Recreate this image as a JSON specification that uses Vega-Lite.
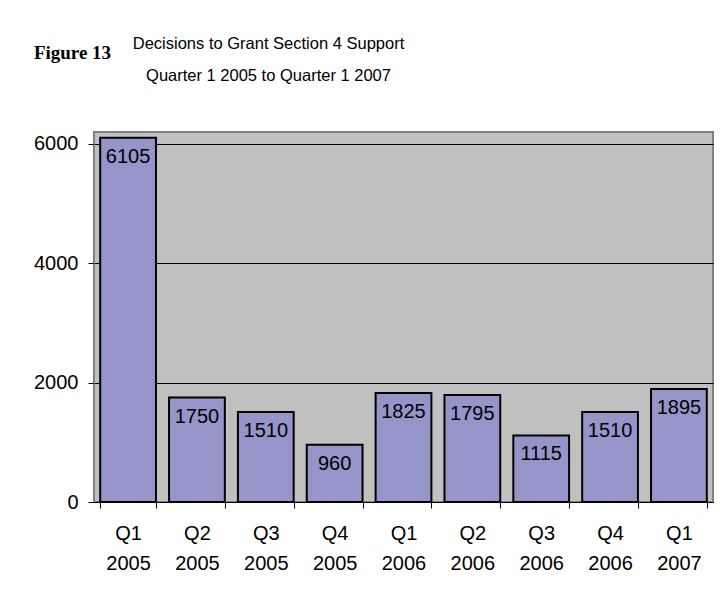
{
  "$schema": "https://vega.github.io/schema/vega-lite/v6.json",
  "width": 619,
  "height": 370,
  "autosize": {"type": "none"},
  "padding": {"left": 94, "top": 132, "right": 15, "bottom": 89},
  "background": "white",
  "title": {
    "text": ["Decisions to Grant Section 4 Support", "Quarter 1 2005 to Quarter 1 2007"],
    "anchor": "middle",
    "dx": -135,
    "offset": 0,
    "dy": 54,
    "baseline": "alphabetic",
    "font": "Liberation Sans",
    "fontSize": 16.5,
    "fontWeight": "normal",
    "lineHeight": 32,
    "color": "black"
  },
  "data": {
    "values": [
      {"quarter": "Q1 2005", "decisions": 6105},
      {"quarter": "Q2 2005", "decisions": 1750},
      {"quarter": "Q3 2005", "decisions": 1510},
      {"quarter": "Q4 2005", "decisions": 960},
      {"quarter": "Q1 2006", "decisions": 1825},
      {"quarter": "Q2 2006", "decisions": 1795},
      {"quarter": "Q3 2006", "decisions": 1115},
      {"quarter": "Q4 2006", "decisions": 1510},
      {"quarter": "Q1 2007", "decisions": 1895}
    ]
  },
  "encoding": {
    "x": {
      "field": "quarter",
      "type": "nominal",
      "sort": null,
      "scale": {"paddingInner": 0.19, "paddingOuter": 0.09},
      "axis": {
        "title": null,
        "labelAngle": 0,
        "labelExpr": "split(datum.label, ' ')",
        "labelLineHeight": 30,
        "labelFont": "Liberation Sans",
        "labelFontSize": 20,
        "labelColor": "black",
        "labelPadding": 15,
        "tickBand": "extent",
        "tickSize": 6,
        "tickColor": "black",
        "domainColor": "black",
        "domainWidth": 1
      }
    },
    "y": {
      "field": "decisions",
      "type": "quantitative",
      "scale": {"domain": [0, 6200], "nice": false},
      "axis": {
        "values": [0, 2000, 4000, 6000],
        "format": "d",
        "title": "Figure 13",
        "titleAngle": 0,
        "titleX": -22,
        "titleY": -74,
        "titleAlign": "center",
        "titleBaseline": "alphabetic",
        "titleFont": "Liberation Serif",
        "titleFontSize": 19,
        "titleFontWeight": "bold",
        "titleColor": "black",
        "labelFont": "Liberation Sans",
        "labelFontSize": 20,
        "labelColor": "black",
        "labelPadding": 10,
        "tickSize": 6,
        "tickColor": "black",
        "grid": true,
        "gridColor": "black",
        "gridWidth": 1,
        "domainColor": "#808080",
        "domainWidth": 1
      }
    }
  },
  "layer": [
    {
      "mark": {"type": "bar", "fill": "#9595C9", "stroke": "black", "strokeWidth": 2}
    },
    {
      "mark": {
        "type": "text",
        "baseline": "top",
        "dy": 9,
        "font": "Liberation Sans",
        "fontSize": 20,
        "color": "black"
      },
      "encoding": {"text": {"field": "decisions", "type": "quantitative", "format": "d"}}
    }
  ],
  "config": {
    "view": {"fill": "#C0C0C0", "stroke": "#808080", "strokeWidth": 2}
  }
}
